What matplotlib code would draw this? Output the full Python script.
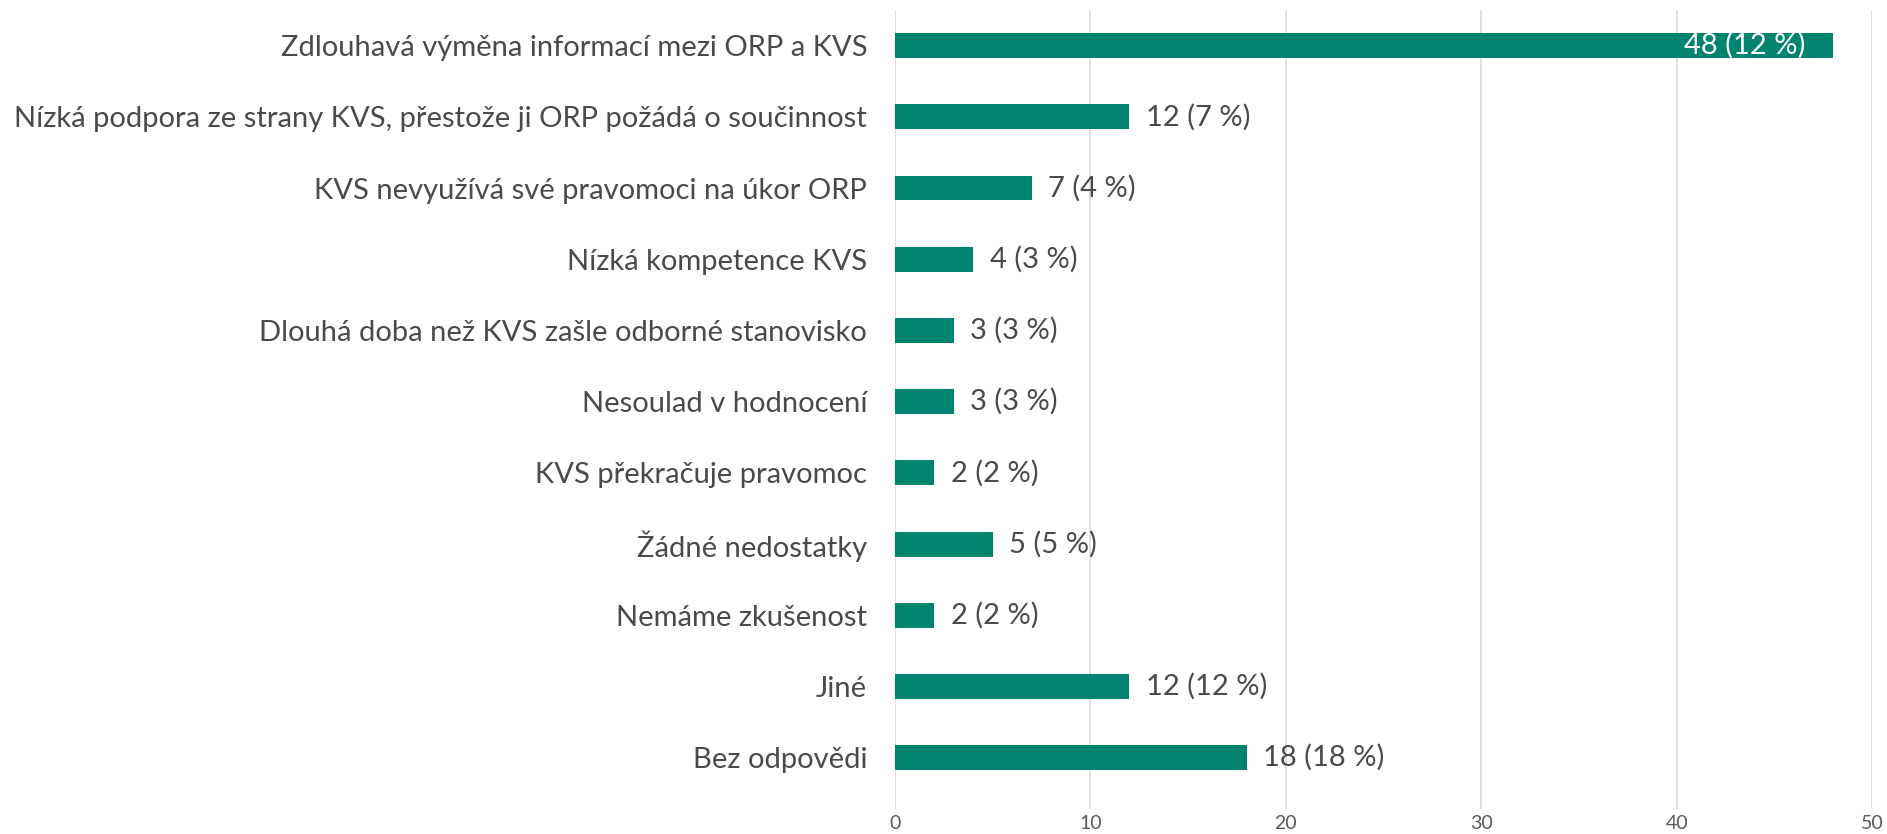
import matplotlib.pyplot as plt

categories = [
    "Zdlouhavá výměna informací mezi ORP a KVS",
    "Nízká podpora ze strany KVS, přestože ji ORP požádá o součinnost",
    "KVS nevyužívá své pravomoci na úkor ORP",
    "Nízká kompetence KVS",
    "Dlouhá doba než KVS zašle odborné stanovisko",
    "Nesoulad v hodnocení",
    "KVS překračuje pravomoc",
    "Žádné nedostatky",
    "Nemáme zkušenost",
    "Jiné",
    "Bez odpovědi",
]
counts = [48, 12, 7, 4, 3, 3, 2, 5, 2, 12, 18]
percents = [12, 7, 4, 3, 3, 3, 2, 5, 2, 12, 18]
xticks = [0, 10, 20, 30, 40, 50]

bar_color = "#00846F"
text_color = "#4a4a4a"
plt.rcParams['font.family'] = ['Lato', 'DejaVu Sans']

fig = plt.figure(figsize=(18.87, 8.34), dpi=100)
# axes box: x from 895 to 1872 px, y from 10 to 809 px (top-left origin)
ax = fig.add_axes([895 / 1887, 25 / 834, (1872 - 895) / 1887, 799 / 834])

ypos = list(range(len(categories)))
ax.barh(ypos, counts, height=0.35, color=bar_color, zorder=3)

for y, c, p in zip(ypos, counts, percents):
    label = f"{c} ({p} %)"
    if c > 40:
        ax.text(c - 1.4, y, label, ha='right', va='center', color='white', fontsize=21)
    else:
        ax.text(c + 0.85, y, label, ha='left', va='center', color=text_color, fontsize=21)

ax.set_xlim(0, 50)
ax.set_ylim(10.72, -0.5)
ax.set_xticks(xticks)
ax.set_xticklabels([str(t) for t in xticks], fontsize=14, color="#595959")
ax.set_yticks(ypos)
ax.set_yticklabels(categories, fontsize=21, color=text_color)
ax.tick_params(axis='both', length=0)
ax.tick_params(axis='y', pad=20)
ax.tick_params(axis='x', pad=4)
ax.grid(axis='x', color='#d9d9d9', linewidth=1.2, zorder=0)
for s in ax.spines.values():
    s.set_visible(False)

plt.savefig('out.png', dpi=100)
